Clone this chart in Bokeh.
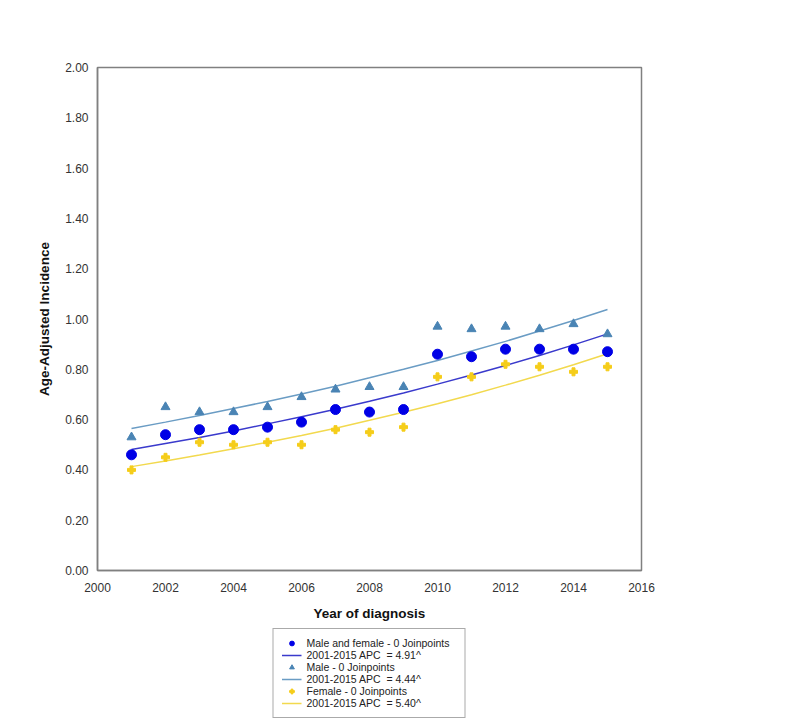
from bokeh.plotting import figure
from bokeh.layouts import column
from bokeh.models import Legend, LegendItem, FixedTicker, NumeralTickFormatter, Range1d
from bokeh.embed import file_html
from bokeh.resources import INLINE

years = list(range(2001, 2016))
both_obs = [0.46, 0.54, 0.56, 0.56, 0.57, 0.59, 0.64, 0.63, 0.64, 0.86, 0.85, 0.88, 0.88, 0.88, 0.87]
male_obs = [0.53, 0.65, 0.63, 0.63, 0.65, 0.69, 0.72, 0.73, 0.73, 0.97, 0.96, 0.97, 0.96, 0.98, 0.94]
female_obs = [0.40, 0.45, 0.51, 0.50, 0.51, 0.50, 0.56, 0.55, 0.57, 0.77, 0.77, 0.82, 0.81, 0.79, 0.81]

both_fit = [0.481, 0.505, 0.529, 0.555, 0.583, 0.611, 0.641, 0.673, 0.706, 0.741, 0.777, 0.815, 0.855, 0.897, 0.941]
male_fit = [0.565, 0.590, 0.616, 0.644, 0.672, 0.702, 0.733, 0.766, 0.800, 0.835, 0.873, 0.911, 0.952, 0.994, 1.038]
female_fit = [0.413, 0.435, 0.459, 0.484, 0.510, 0.537, 0.566, 0.597, 0.629, 0.663, 0.699, 0.737, 0.776, 0.818, 0.862]

x_ticks = list(range(2000, 2017, 2))
y_ticks = [round(i * 0.2, 2) for i in range(11)]

legend_labels = [
    "Male and female - 0 Joinpoints",
    "2001-2015 APC  = 4.91^",
    "Male - 0 Joinpoints",
    "2001-2015 APC  = 4.44^",
    "Female - 0 Joinpoints",
    "2001-2015 APC  = 5.40^",
]

FONT = "Liberation Sans"
C_BOTH_PT, C_BOTH_LN = "#0000e6", "#3a3acc"
C_MALE_PT, C_MALE_LN = "#4a84b4", "#6a9cc4"
C_FEM_PT, C_FEM_LN = "#f5cd1a", "#f2d94e"

p = figure(width=784, height=626, output_backend="svg", toolbar_location=None,
           x_range=Range1d(2000, 2016), y_range=Range1d(0, 2),
           min_border_left=97, min_border_right=143, min_border_top=67, min_border_bottom=0)
p.frame_width = 544
p.frame_height = 503

p.xgrid.visible = False
p.ygrid.visible = False
p.outline_line_color = "#808080"
p.outline_line_width = 1.5

for ax in (p.xaxis[0], p.yaxis[0]):
    ax.axis_line_color = "#808080"
    ax.axis_line_width = 1.5
    ax.major_tick_line_color = None
    ax.minor_tick_line_color = None
    ax.major_label_text_font = FONT
    ax.major_label_text_font_size = "12px"
    ax.major_label_text_color = "#333333"
    ax.axis_label_text_font = FONT
    ax.axis_label_text_font_size = "13.5px"
    ax.axis_label_text_font_style = "bold"
    ax.axis_label_text_color = "#111111"

p.xaxis.ticker = FixedTicker(ticks=x_ticks)
p.yaxis.ticker = FixedTicker(ticks=y_ticks)
p.yaxis.formatter = NumeralTickFormatter(format="0.00")
p.xaxis.axis_label = "Year of diagnosis"
p.yaxis.axis_label = "Age-Adjusted Incidence"
p.xaxis.major_label_standoff = 6
p.xaxis.axis_label_standoff = 11
p.yaxis.major_label_standoff = 3
p.yaxis.axis_label_standoff = 10

p.line(years, both_fit, line_color=C_BOTH_LN, line_width=1.5)
p.line(years, male_fit, line_color=C_MALE_LN, line_width=1.5)
p.line(years, female_fit, line_color=C_FEM_LN, line_width=1.5)

p.scatter(years, both_obs, marker="circle", size=10, fill_color=C_BOTH_PT, line_color=C_BOTH_PT)
p.scatter(years, male_obs, marker="triangle", size=9, fill_color=C_MALE_PT, line_color=C_MALE_PT)
p.scatter(years, female_obs, marker="plus", size=8, fill_color=C_FEM_PT, line_color=C_FEM_PT)

# Legend panel under the chart (key glyphs sit outside the visible range)
q = figure(width=784, height=96, output_backend="svg", toolbar_location=None,
           x_axis_type=None, y_axis_type=None, x_range=Range1d(0, 1), y_range=Range1d(0, 1),
           min_border_left=97, min_border_right=143, min_border_top=0, min_border_bottom=0)
q.xgrid.visible = False
q.ygrid.visible = False
q.outline_line_color = None

off = [-10, -11]
k_both_pt = q.scatter(off, off, marker="circle", size=8, fill_color=C_BOTH_PT, line_color=C_BOTH_PT)
k_both_ln = q.line(off, off, line_color=C_BOTH_LN, line_width=1.5)
k_male_pt = q.scatter(off, off, marker="triangle", size=7, fill_color=C_MALE_PT, line_color=C_MALE_PT)
k_male_ln = q.line(off, off, line_color=C_MALE_LN, line_width=1.5)
k_fem_pt = q.scatter(off, off, marker="plus", size=7, fill_color=C_FEM_PT, line_color=C_FEM_PT)
k_fem_ln = q.line(off, off, line_color=C_FEM_LN, line_width=1.5)

renders = [k_both_pt, k_both_ln, k_male_pt, k_male_ln, k_fem_pt, k_fem_ln]
items = [LegendItem(label=lab, renderers=[r]) for lab, r in zip(legend_labels, renders)]
legend = Legend(items=items, location="top_center", orientation="vertical",
                label_text_font=FONT, label_text_font_size="10.5px", label_text_color="#222222",
                label_height=12, label_width=150, glyph_height=12, glyph_width=20, spacing=0,
                padding=8, margin=5, border_line_color="#555555", border_line_width=1,
                background_fill_alpha=1.0, label_standoff=5)
q.add_layout(legend, "center")

layout = column(p, q, spacing=0)
open("out.html", "w").write(file_html(layout, INLINE))
